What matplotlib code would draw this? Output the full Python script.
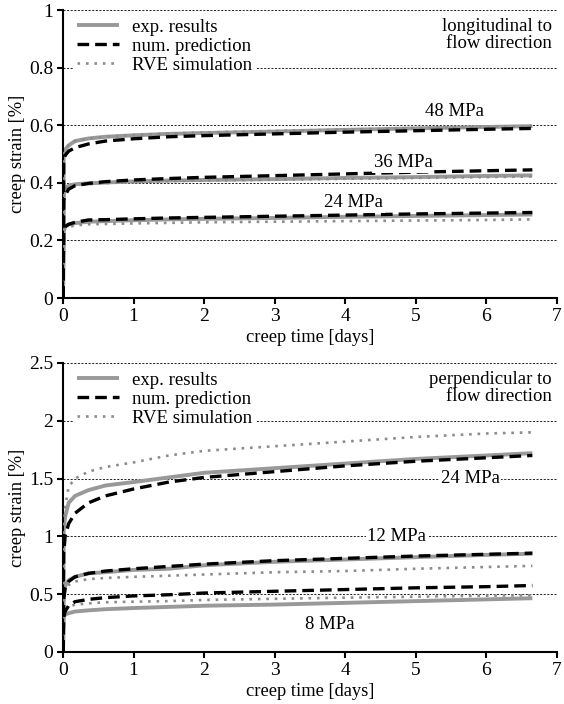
import matplotlib.pyplot as plt
import numpy as np

plt.rcParams['font.family'] = ['Liberation Serif', 'DejaVu Serif']
plt.rcParams['font.size'] = 13

# creep time [days], same sampling for every curve
t = [0, 0.01, 0.03, 0.08, 0.17, 0.36, 0.6, 1, 1.5, 2, 3, 4, 5, 6, 6.65]

# longitudinal to flow direction
lon_exp = {
    '48 MPa': [0, 0.49, 0.515, 0.530, 0.545, 0.554, 0.560, 0.565, 0.570, 0.573, 0.578, 0.584, 0.589, 0.594, 0.597],
    '36 MPa': [0, 0.36, 0.383, 0.390, 0.395, 0.398, 0.401, 0.405, 0.408, 0.410, 0.413, 0.417, 0.420, 0.424, 0.426],
    '24 MPa': [0, 0.235, 0.248, 0.255, 0.260, 0.265, 0.267, 0.270, 0.273, 0.275, 0.278, 0.282, 0.285, 0.288, 0.290],
}
lon_num = {
    '48 MPa': [0, 0.47, 0.495, 0.510, 0.522, 0.535, 0.545, 0.553, 0.560, 0.564, 0.570, 0.576, 0.581, 0.586, 0.589],
    '36 MPa': [0, 0.34, 0.357, 0.378, 0.390, 0.398, 0.404, 0.410, 0.415, 0.419, 0.425, 0.431, 0.437, 0.442, 0.445],
    '24 MPa': [0, 0.225, 0.248, 0.256, 0.263, 0.271, 0.272, 0.275, 0.278, 0.280, 0.284, 0.288, 0.292, 0.295, 0.297],
}
lon_rve = {
    '48 MPa': [0, 0.49, 0.515, 0.530, 0.545, 0.554, 0.560, 0.566, 0.571, 0.575, 0.580, 0.585, 0.590, 0.594, 0.596],
    '36 MPa': [0, 0.36, 0.380, 0.387, 0.392, 0.396, 0.399, 0.403, 0.406, 0.408, 0.411, 0.414, 0.417, 0.420, 0.422],
    '24 MPa': [0, 0.23, 0.240, 0.247, 0.252, 0.256, 0.257, 0.259, 0.261, 0.263, 0.265, 0.267, 0.269, 0.271, 0.273],
}
lon_labels = {'48 MPa': (5.55, 0.646), '36 MPa': (4.82, 0.469), '24 MPa': (4.12, 0.33)}

# perpendicular to flow direction
per_exp = {
    '24 MPa': [0, 1.05, 1.17, 1.29, 1.35, 1.40, 1.44, 1.47, 1.51, 1.55, 1.59, 1.63, 1.67, 1.70, 1.72],
    '12 MPa': [0, 0.50, 0.57, 0.62, 0.65, 0.68, 0.69, 0.71, 0.72, 0.75, 0.78, 0.80, 0.82, 0.84, 0.85],
    '8 MPa': [0, 0.30, 0.325, 0.335, 0.35, 0.36, 0.37, 0.38, 0.39, 0.40, 0.41, 0.425, 0.44, 0.455, 0.465],
}
per_num = {
    '24 MPa': [0, 0.85, 1.00, 1.11, 1.20, 1.29, 1.35, 1.41, 1.47, 1.51, 1.56, 1.61, 1.65, 1.68, 1.70],
    '12 MPa': [0, 0.45, 0.55, 0.61, 0.65, 0.68, 0.70, 0.72, 0.74, 0.76, 0.79, 0.81, 0.83, 0.845, 0.855],
    '8 MPa': [0, 0.30, 0.35, 0.40, 0.435, 0.455, 0.47, 0.485, 0.495, 0.51, 0.525, 0.54, 0.555, 0.565, 0.575],
}
per_rve = {
    '24 MPa': [0, 1.05, 1.25, 1.43, 1.50, 1.56, 1.60, 1.64, 1.70, 1.74, 1.78, 1.82, 1.86, 1.89, 1.90],
    '12 MPa': [0, 0.48, 0.54, 0.58, 0.61, 0.63, 0.64, 0.65, 0.66, 0.67, 0.69, 0.70, 0.72, 0.735, 0.745],
    '8 MPa': [0, 0.30, 0.36, 0.39, 0.41, 0.42, 0.43, 0.435, 0.44, 0.45, 0.46, 0.47, 0.478, 0.487, 0.49],
}
per_labels = {'24 MPa': (5.77, 1.5), '12 MPa': (4.73, 1.0), '8 MPa': (3.78, 0.235)}

GRAY = '#999999'

fig = plt.figure(figsize=(5.64, 7.04), dpi=100)
ax1 = fig.add_axes([0.1117, 0.5767, 0.876, 0.409])
ax2 = fig.add_axes([0.1117, 0.0739, 0.876, 0.4105])


def panel(ax, exp, num, rve, labels, ymax, yticks, yticklabels, title):
    for v in yticks[1:]:
        ax.axhline(v, color='black', lw=0.6, ls=(0, (2.5, 1.8)), zorder=0)
    for i, key in enumerate(exp):
        ax.plot(t, exp[key], color=GRAY, lw=2.8, solid_capstyle='butt',
                label='exp. results' if i == 0 else None, zorder=2)
        ax.plot(t, rve[key], color='#8c8c8c', lw=1.9, ls=(0, (1, 2.2)),
                label='RVE simulation' if i == 0 else None, zorder=3)
        ax.plot(t, num[key], color='black', lw=2.4, ls=(0, (3.5, 1.8)),
                label='num. prediction' if i == 0 else None, zorder=4)
    for key, (x, y) in labels.items():
        ax.text(x, y, key, ha='center', va='center', fontsize=13.5, zorder=5,
                bbox=dict(facecolor='white', edgecolor='none', pad=1))
    ax.text(0.99, 0.972, title, transform=ax.transAxes, ha='right', va='top',
            fontsize=13.5, linespacing=1.0, zorder=5)
    h, l = ax.get_legend_handles_labels()
    order = [l.index('exp. results'), l.index('num. prediction'), l.index('RVE simulation')]
    leg = ax.legend([h[i] for i in order], [l[i] for i in order], loc='upper left',
                    bbox_to_anchor=(0.012, 1.0), frameon=True, framealpha=1,
                    edgecolor='none', fancybox=False, handlelength=2.2,
                    labelspacing=0.1, borderpad=0.25, handletextpad=0.7,
                    borderaxespad=0.2, fontsize=13.5)
    leg.set_zorder(6)
    ax.set_xlim(0, 7)
    ax.set_ylim(0, ymax)
    ax.set_xticks(range(8))
    ax.set_yticks(yticks)
    ax.set_yticklabels(yticklabels)
    ax.set_xlabel('creep time [days]', fontsize=13.3, labelpad=3)
    ax.set_ylabel('creep strain [%]', fontsize=13.3, labelpad=2)
    for s in ['top', 'right']:
        ax.spines[s].set_visible(False)
    for s in ['left', 'bottom']:
        ax.spines[s].set_linewidth(1.5)
    ax.tick_params(direction='out', length=4, width=1.5, pad=3, labelsize=14)


panel(ax1, lon_exp, lon_num, lon_rve, lon_labels, 1.0,
      [0, 0.2, 0.4, 0.6, 0.8, 1.0], ['0', '0.2', '0.4', '0.6', '0.8', '1'],
      'longitudinal to\nflow direction')
panel(ax2, per_exp, per_num, per_rve, per_labels, 2.5,
      [0, 0.5, 1.0, 1.5, 2.0, 2.5], ['0', '0.5', '1', '1.5', '2', '2.5'],
      'perpendicular to\nflow direction')

fig.savefig('out.png', dpi=100)
